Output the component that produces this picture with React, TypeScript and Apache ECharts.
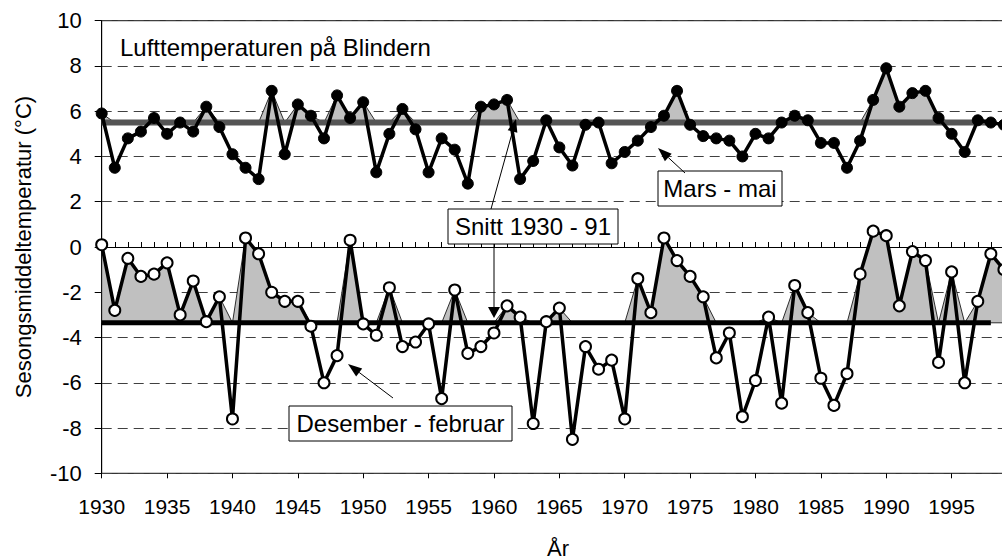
import React, { useEffect, useRef } from "react";
import * as echarts from "echarts";

const YEARS = [
  1930, 1931, 1932, 1933, 1934, 1935, 1936, 1937, 1938, 1939,
  1940, 1941, 1942, 1943, 1944, 1945, 1946, 1947, 1948, 1949,
  1950, 1951, 1952, 1953, 1954, 1955, 1956, 1957, 1958, 1959,
  1960, 1961, 1962, 1963, 1964, 1965, 1966, 1967, 1968, 1969,
  1970, 1971, 1972, 1973, 1974, 1975, 1976, 1977, 1978, 1979,
  1980, 1981, 1982, 1983, 1984, 1985, 1986, 1987, 1988, 1989,
  1990, 1991, 1992, 1993, 1994, 1995, 1996, 1997, 1998, 1999,
];

// Mars - mai
const SPRING = [
  5.9, 3.5, 4.8, 5.1, 5.7, 5.0, 5.5, 5.1, 6.2, 5.3,
  4.1, 3.5, 3.0, 6.9, 4.1, 6.3, 5.8, 4.8, 6.7, 5.7,
  6.4, 3.3, 5.0, 6.1, 5.2, 3.3, 4.8, 4.3, 2.8, 6.2,
  6.3, 6.5, 3.0, 3.8, 5.6, 4.4, 3.6, 5.4, 5.5, 3.7,
  4.2, 4.7, 5.3, 5.8, 6.9, 5.4, 4.9, 4.8, 4.7, 4.0,
  5.0, 4.8, 5.5, 5.8, 5.6, 4.6, 4.6, 3.5, 4.7, 6.5,
  7.9, 6.2, 6.8, 6.9, 5.7, 5.0, 4.2, 5.6, 5.5, 5.4,
];

// Desember - februar
const WINTER = [
  0.1, -2.8, -0.5, -1.3, -1.2, -0.7, -3.0, -1.5, -3.3, -2.2,
  -7.6, 0.4, -0.3, -2.0, -2.4, -2.4, -3.5, -6.0, -4.8, 0.3,
  -3.4, -3.9, -1.8, -4.4, -4.2, -3.4, -6.7, -1.9, -4.7, -4.4,
  -3.8, -2.6, -3.1, -7.8, -3.3, -2.7, -8.5, -4.4, -5.4, -5.0,
  -7.6, -1.4, -2.9, 0.4, -0.6, -1.3, -2.2, -4.9, -3.8, -7.5,
  -5.9, -3.1, -6.9, -1.7, -2.9, -5.8, -7.0, -5.6, -1.2, 0.7,
  0.5, -2.6, -0.2, -0.6, -5.1, -1.1, -6.0, -2.4, -0.3, -1.0,
];

const SPRING_MEAN = 5.5;
const WINTER_MEAN = -3.35;
const MEAN_YEARS = [1930, 1998];

const FONT = "'Liberation Sans', Arial, sans-serif";

function arrow(x1: number, y1: number, x2: number, y2: number, len = 13, half = 5) {
  const dx = x2 - x1;
  const dy = y2 - y1;
  const d = Math.hypot(dx, dy);
  const ux = dx / d;
  const uy = dy / d;
  const bx = x2 - ux * len;
  const by = y2 - uy * len;
  const px = -uy;
  const py = ux;
  return [
    { type: "line", shape: { x1, y1, x2: bx, y2: by }, style: { stroke: "#000", lineWidth: 1 }, z: 12 },
    {
      type: "polygon",
      shape: { points: [[x2, y2], [bx + px * half, by + py * half], [bx - px * half, by - py * half]] },
      style: { fill: "#000" },
      z: 12,
    },
  ];
}

function box(x: number, y: number, w: number, h: number, text: string) {
  return [
    { type: "rect", shape: { x, y, width: w, height: h }, style: { fill: "#fff", stroke: "#000", lineWidth: 1 }, z: 10 },
    {
      type: "text",
      x: x + w / 2,
      y: y + h / 2,
      style: { text, fontSize: 24, fontFamily: FONT, fill: "#000", textAlign: "center", textVerticalAlign: "middle" },
      z: 11,
    },
  ];
}

// Gray area between a series and its mean wherever the series lies above the mean
function aboveMeanArea(values: number[], mean: number) {
  return {
    type: "custom",
    silent: true,
    z: 1,
    data: [[YEARS[0], mean]],
    renderItem: (_params: any, api: any) => {
      const pts: number[][] = YEARS.map((y, i) => api.coord([y, Math.max(values[i], mean)]));
      pts.push(api.coord([YEARS[YEARS.length - 1], mean]));
      pts.push(api.coord([YEARS[0], mean]));
      return {
        type: "polygon",
        shape: { points: pts },
        style: { fill: "#c0c0c0", stroke: "#000", lineWidth: 0.8 },
      };
    },
  };
}

export default function App() {
  const ref = useRef<HTMLDivElement>(null);

  useEffect(() => {
    if (!ref.current) return;
    const chart = echarts.init(ref.current, undefined, { renderer: "svg" });

    const springPts = YEARS.map((y, i) => [y, SPRING[i]]);
    const winterPts = YEARS.map((y, i) => [y, WINTER[i]]);

    const option: any = {
      animation: false,
      backgroundColor: "#fff",
      grid: {
        left: 101.7,
        right: 1.3,
        top: 20.7,
        bottom: 86.7,
        show: true,
        borderColor: "#000",
        borderWidth: 1,
        backgroundColor: "transparent",
      },
      xAxis: [
        {
          type: "value",
          min: 1930,
          max: 2000,
          interval: 5,
          position: "bottom",
          axisLine: { show: true, lineStyle: { color: "#000", width: 1 } },
          axisTick: { show: true, inside: true, length: 5, lineStyle: { color: "#000" } },
          minorTick: { show: true, splitNumber: 5, length: 5, lineStyle: { color: "#000" } },
          splitLine: { show: false },
          axisLabel: {
            fontSize: 21,
            fontFamily: FONT,
            color: "#000",
            margin: 23,
            formatter: (v: number) => (v >= 2000 ? "" : String(v)),
          },
        },
        {
          type: "value",
          min: 1930,
          max: 2000,
          interval: 5,
          position: "bottom",
          axisLine: { show: false },
          axisTick: { show: true, inside: false, length: 5, lineStyle: { color: "#000" } },
          splitLine: { show: false },
          axisLabel: { show: false },
        },
      ],
      yAxis: {
        type: "value",
        min: -10,
        max: 10,
        interval: 2,
        axisLine: { show: true, lineStyle: { color: "#000", width: 1 } },
        axisTick: { show: true, inside: false, length: 7, lineStyle: { color: "#000" } },
        splitLine: { show: true, lineStyle: { color: "#404040", width: 1, type: [10, 6] } },
        axisLabel: { fontSize: 22, fontFamily: FONT, color: "#000", margin: 20 },
      },
      series: [
        aboveMeanArea(SPRING, SPRING_MEAN),
        aboveMeanArea(WINTER, WINTER_MEAN),
        {
          type: "line",
          data: MEAN_YEARS.map((y) => [y, SPRING_MEAN]),
          symbol: "none",
          lineStyle: { color: "#555", width: 6 },
          z: 2,
        },
        {
          type: "line",
          data: MEAN_YEARS.map((y) => [y, WINTER_MEAN]),
          symbol: "none",
          lineStyle: { color: "#000", width: 5 },
          z: 2,
        },
        {
          name: "Mars - mai",
          type: "line",
          data: springPts,
          symbol: "circle",
          symbolSize: 11,
          lineStyle: { color: "#000", width: 3.5 },
          itemStyle: { color: "#000", borderColor: "#000", borderWidth: 1 },
          z: 3,
        },
        {
          name: "Desember - februar",
          type: "line",
          data: winterPts,
          symbol: "circle",
          symbolSize: 11,
          lineStyle: { color: "#000", width: 3.5 },
          itemStyle: { color: "#fff", borderColor: "#000", borderWidth: 2 },
          z: 3,
        },
      ],
      graphic: [
        {
          type: "text",
          x: 120,
          y: 47,
          style: {
            text: "Lufttemperaturen på Blindern",
            fontSize: 24,
            fontFamily: FONT,
            fill: "#000",
            textAlign: "left",
            textVerticalAlign: "middle",
          },
        },
        {
          type: "text",
          x: 23,
          y: 247,
          rotation: Math.PI / 2,
          style: {
            text: "Sesongsmiddeltemperatur (°C)",
            fontSize: 22,
            fontFamily: FONT,
            fill: "#000",
            textAlign: "center",
            textVerticalAlign: "middle",
          },
        },
        {
          type: "text",
          x: 558,
          y: 548,
          style: {
            text: "År",
            fontSize: 22,
            fontFamily: FONT,
            fill: "#000",
            textAlign: "center",
            textVerticalAlign: "middle",
          },
        },
        ...arrow(685, 173, 658, 148, 14, 5),
        ...arrow(491, 209, 516, 119, 13, 5),
        ...arrow(494, 244, 494, 318, 11, 6),
        ...arrow(393, 398, 348, 364, 14, 5),
        ...box(658, 171, 124, 35, "Mars - mai"),
        ...box(448, 209, 170, 35, "Snitt 1930 - 91"),
        ...box(289, 406, 223, 35, "Desember - februar"),
      ],
    };

    chart.setOption(option);
    return () => chart.dispose();
  }, []);

  return (
    <div
      style={{
        position: "absolute",
        left: 0,
        top: 0,
        width: 1002,
        height: 560,
        overflow: "hidden",
        background: "#fff",
      }}
    >
      <div ref={ref} style={{ width: 1020, height: 560 }} />
    </div>
  );
}
